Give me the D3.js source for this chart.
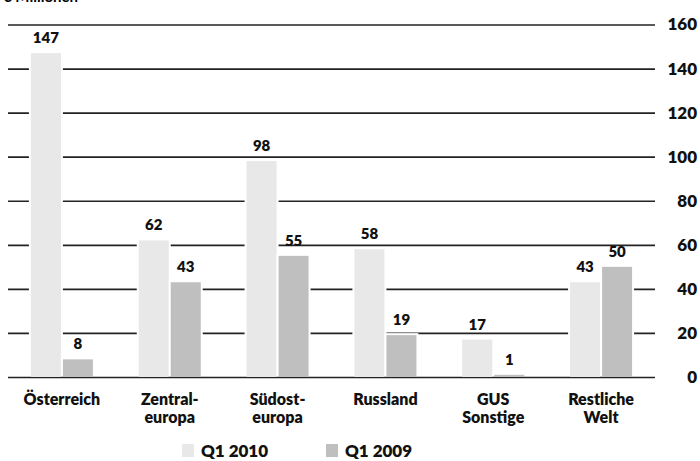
<!DOCTYPE html>
<html>
<head>
<meta charset="utf-8">
<script src="https://cdn.jsdelivr.net/npm/d3@7"></script>
<style>
  body { margin: 0; background: #fff; }
  svg { display: block; font-family: Lato, "Open Sans", sans-serif; }
</style>
</head>
<body>
<svg width="700" height="461"></svg>
<script>
// data
var categories = [["Österreich"], ["Zentral-", "europa"], ["Südost-", "europa"], ["Russland"], ["GUS", "Sonstige"], ["Restliche", "Welt"]];
var series = ["Q1 2010", "Q1 2009"];
var q12010 = [147, 62, 98, 58, 17, 43];
var q12009 = [8, 43, 55, 19, 1, 50];
var yTicks = [0, 20, 40, 60, 80, 100, 120, 140, 160];
var colors = ["#e8e8e8", "#bfbfbf"];

var svg = d3.select("svg");

var keys = categories.map(function (c) { return c.join(" "); });
var rows = keys.map(function (k, i) { return { key: k, lines: categories[i], values: [q12010[i], q12009[i]] }; });

// scales
var x0 = d3.scaleBand().domain(keys).range([8, 655]).padding(0);
var x1 = d3.scaleBand().domain(series).range([0, 62]).paddingInner(1 / 16);
var y = d3.scaleLinear().domain([0, 160]).range([377, 24.5]);
var color = d3.scaleOrdinal().domain(series).range(colors);

// title (cut off at top, as in the original)
svg.append("text")
	.attr("x", 3)
	.attr("y", 2)
	.style("font-weight", "bold")
	.style("font-size", "15px")
	.text("€ Millionen");

// gridlines + right axis labels
var axis = svg.append("g")
	.attr("transform", "translate(655,0)")
	.call(d3.axisRight(y).tickValues(yTicks).tickSizeInner(-647).tickSizeOuter(0).tickPadding(0));
axis.select(".domain").remove();
axis.selectAll(".tick line")
	.attr("stroke", "#222")
	.attr("stroke-width", 1.7);
axis.selectAll(".tick text")
	.attr("x", 42)
	.attr("text-anchor", "end")
	.attr("fill", "#111")
	.style("font-family", "Lato, sans-serif")
	.style("font-weight", "800")
	.style("font-size", "17px");

// bars
var groups = svg.append("g")
	.selectAll("g")
	.data(rows)
	.enter()
	.append("g")
	.attr("transform", function (d) { return "translate(" + (x0(d.key) + x0.bandwidth() / 2 - 31) + ",0)"; });

var bars = groups.selectAll("g")
	.data(function (d) { return d.values.map(function (v, i) { return { s: series[i], v: v }; }); })
	.enter()
	.append("g");

// white halo that breaks the gridlines
bars.append("rect")
	.attr("x", function (d) { return x1(d.s) - 2; })
	.attr("width", x1.bandwidth() + 4)
	.attr("y", function (d) { return y(d.v) - 2; })
	.attr("height", function (d) { return Math.max(0, y(0) - y(d.v) + 1); })
	.attr("fill", "#fff");

bars.append("rect")
	.attr("x", function (d) { return x1(d.s); })
	.attr("width", x1.bandwidth())
	.attr("y", function (d) { return y(d.v); })
	.attr("height", function (d) { return y(0) - y(d.v); })
	.attr("fill", function (d) { return color(d.s); });

bars.append("text")
	.attr("x", function (d) { return x1(d.s) + x1.bandwidth() / 2; })
	.attr("y", function (d) { return y(d.v) - 10; })
	.attr("text-anchor", "middle")
	.attr("fill", "#111")
	.style("font-weight", "800")
	.style("font-size", "15px")
	.text(function (d) { return d.v; });

// category labels
var labels = svg.append("g")
	.selectAll("text")
	.data(rows)
	.enter()
	.append("text")
	.attr("x", function (d) { return x0(d.key) + x0.bandwidth() / 2; })
	.attr("y", 405)
	.attr("text-anchor", "middle")
	.attr("fill", "#111")
	.style("font-weight", "800")
	.style("font-size", "16px");
labels.selectAll("tspan")
	.data(function (d) { return d.lines; })
	.enter()
	.append("tspan")
	.attr("x", function () { var p = d3.select(this.parentNode).datum(); return x0(p.key) + x0.bandwidth() / 2; })
	.attr("dy", function (d, i) { return i === 0 ? 0 : 18; })
	.text(function (d) { return d; });

// legend
var legendX = [182, 326];
var legend = svg.append("g")
	.selectAll("g")
	.data(series)
	.enter()
	.append("g")
	.attr("transform", function (d, i) { return "translate(" + legendX[i] + ",444)"; });
legend.append("rect")
	.attr("width", 12)
	.attr("height", 13)
	.attr("fill", function (d) { return color(d); });
legend.append("text")
	.attr("x", 19)
	.attr("y", 13)
	.attr("fill", "#111")
	.style("font-weight", "800")
	.style("font-size", "17px")
	.text(function (d) { return d; });
</script>
</body>
</html>
